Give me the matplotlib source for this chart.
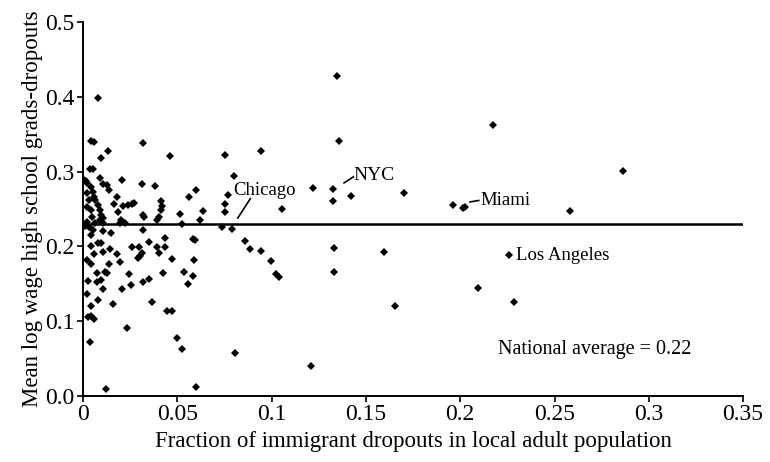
import numpy as np
import matplotlib
matplotlib.use("Agg")
import matplotlib.pyplot as plt

plt.rcParams['font.family'] = ['Liberation Serif', 'DejaVu Serif']

# city points: (fraction of immigrant dropouts, mean log wage gap)
x_vals = [
    0.008, 0.004, 0.006, 0.0316, 0.013, 0.0097, 0.046, 0.0036, 0.0053, 0.0089,
    0.0106, 0.0124, 0.0137, 0.0204, 0.031, 0.038, 0.060, 0.056, 0.0177, 0.0165,
    0.0213, 0.0239, 0.0257, 0.0271, 0.0413, 0.042, 0.0413, 0.040, 0.039, 0.0514,
    0.0186, 0.032, 0.0324, 0.020, 0.022, 0.0195, 0.0053, 0.0044, 0.0106, 0.015,
    0.0319, 0.0434, 0.0585, 0.0594, 0.0523, 0.008, 0.0097, 0.0044, 0.0142, 0.0257,
    0.0298, 0.035, 0.039, 0.0434, 0.0106, 0.0059, 0.0177, 0.031, 0.030, 0.029,
    0.040, 0.0023, 0.047, 0.059, 0.0044, 0.0137, 0.0195, 0.0076, 0.0115, 0.0124,
    0.0027, 0.0071, 0.0097, 0.0245, 0.0422, 0.0537, 0.0585, 0.0316, 0.035, 0.0254,
    0.0106, 0.0204, 0.0555, 0.0018, 0.008, 0.016, 0.0367, 0.0044, 0.0027, 0.0044,
    0.0059, 0.0443, 0.0473, 0.023, 0.050, 0.0037, 0.0523, 0.0119, 0.060,
    0.1356, 0.0754, 0.0945, 0.0798, 0.0768, 0.1218, 0.1324, 0.1324, 0.1419, 0.075,
    0.0635, 0.075, 0.1055, 0.062, 0.0736, 0.0789, 0.0856, 0.0883, 0.0945, 0.0996,
    0.1024, 0.1037, 0.133, 0.1596, 0.133, 0.0803, 0.1206,
    0.1346, 0.2172, 0.2863, 0.1702, 0.1963, 0.2012, 0.2027, 0.258, 0.2257, 0.2096,
    0.1654, 0.2287,
    0.0005, 0.0015, 0.002, 0.004, 0.005, 0.0055, 0.0064, 0.008, 0.0089, 0.0097,
    0.0106, 0.002, 0.003, 0.002, 0.004, 0.0048, 0.002, 0.0063, 0.0089, 0.0105,
    0.001, 0.003,
]
y_vals = [
    0.399, 0.341, 0.340, 0.339, 0.327, 0.318, 0.321, 0.304, 0.303, 0.291,
    0.284, 0.282, 0.276, 0.289, 0.284, 0.281, 0.275, 0.266, 0.266, 0.257,
    0.254, 0.256, 0.257, 0.258, 0.261, 0.254, 0.249, 0.240, 0.235, 0.243,
    0.246, 0.242, 0.240, 0.235, 0.231, 0.231, 0.222, 0.215, 0.220, 0.218,
    0.222, 0.211, 0.210, 0.2086, 0.230, 0.205, 0.204, 0.2005, 0.197, 0.199,
    0.1996, 0.2055, 0.1996, 0.1996, 0.193, 0.190, 0.190, 0.1907, 0.187, 0.184,
    0.1907, 0.182, 0.183, 0.182, 0.176, 0.1765, 0.1787, 0.165, 0.166, 0.164,
    0.154, 0.153, 0.155, 0.163, 0.164, 0.166, 0.160, 0.153, 0.156, 0.148,
    0.143, 0.143, 0.150, 0.136, 0.129, 0.1225, 0.125, 0.120, 0.105, 0.107,
    0.1025, 0.1136, 0.114, 0.0905, 0.077, 0.0726, 0.0624, 0.0094, 0.0125,
    0.341, 0.322, 0.3275, 0.294, 0.2687, 0.2776, 0.2763, 0.261, 0.267, 0.2567,
    0.2477, 0.2455, 0.2495, 0.2353, 0.2263, 0.2227, 0.2072, 0.1965, 0.1938, 0.1805,
    0.163, 0.1587, 0.1975, 0.192, 0.166, 0.057, 0.040,
    0.428, 0.3623, 0.301, 0.272, 0.256, 0.251, 0.253, 0.247, 0.1885, 0.144,
    0.1207, 0.125,
    0.289, 0.287, 0.285, 0.279, 0.273, 0.266, 0.262, 0.255, 0.249, 0.242,
    0.238, 0.271, 0.262, 0.253, 0.249, 0.240, 0.233, 0.231, 0.235, 0.231,
    0.228, 0.226,
]

line_level = 0.23
x_ticks = [0, 0.05, 0.1, 0.15, 0.2, 0.25, 0.3, 0.35]
x_tick_labels = ['0', '0.05', '0.1', '0.15', '0.2', '0.25', '0.3', '0.35']
y_ticks = [0.0, 0.1, 0.2, 0.3, 0.4, 0.5]
y_tick_labels = ['0.0', '0.1', '0.2', '0.3', '0.4', '0.5']

fig = plt.figure(figsize=(7.7, 4.62), dpi=100)
ax = fig.add_axes([0.108, 0.143, 0.857, 0.809])

ax.plot(x_vals, y_vals, linestyle='none', marker='D', markersize=3.8,
        color='black', markeredgewidth=0)
ax.plot([0, 0.35], [line_level, line_level], color='black', linewidth=1.8)

# labels for the big cities
ax.text(0.0795, 0.275, 'Chicago', fontsize=13.5, va='center', ha='left')
ax.plot([0.0887, 0.082], [0.264, 0.238], color='black', linewidth=1.2)
ax.text(0.1435, 0.295, 'NYC', fontsize=14, va='center', ha='left')
ax.plot([0.1384, 0.1433], [0.285, 0.293], color='black', linewidth=1.2)
ax.text(0.2105, 0.262, 'Miami', fontsize=13.5, va='center', ha='left')
ax.plot([0.2052, 0.2098], [0.2595, 0.2615], color='black', linewidth=1.2)
ax.text(0.2295, 0.1885, 'Los Angeles', fontsize=13.5, va='center', ha='left')
ax.text(0.22, 0.0615, 'National average = 0.22', fontsize=14.5, va='center', ha='left')

ax.set_xlim(0, 0.35)
ax.set_ylim(0, 0.5)
ax.set_xticks(x_ticks)
ax.set_xticklabels(x_tick_labels)
ax.set_yticks(y_ticks)
ax.set_yticklabels(y_tick_labels)
ax.tick_params(labelsize=17, direction='out', length=4, width=1.2, pad=2)
ax.spines['top'].set_visible(False)
ax.spines['right'].set_visible(False)
ax.spines['left'].set_linewidth(1.4)
ax.spines['bottom'].set_linewidth(1.4)

ax.set_xlabel('Fraction of immigrant dropouts in local adult population',
              fontsize=16.5, labelpad=4)
ax.set_ylabel('Mean log wage high school grads-dropouts', fontsize=16.5,
              labelpad=2)

fig.savefig('out.png', dpi=100)
